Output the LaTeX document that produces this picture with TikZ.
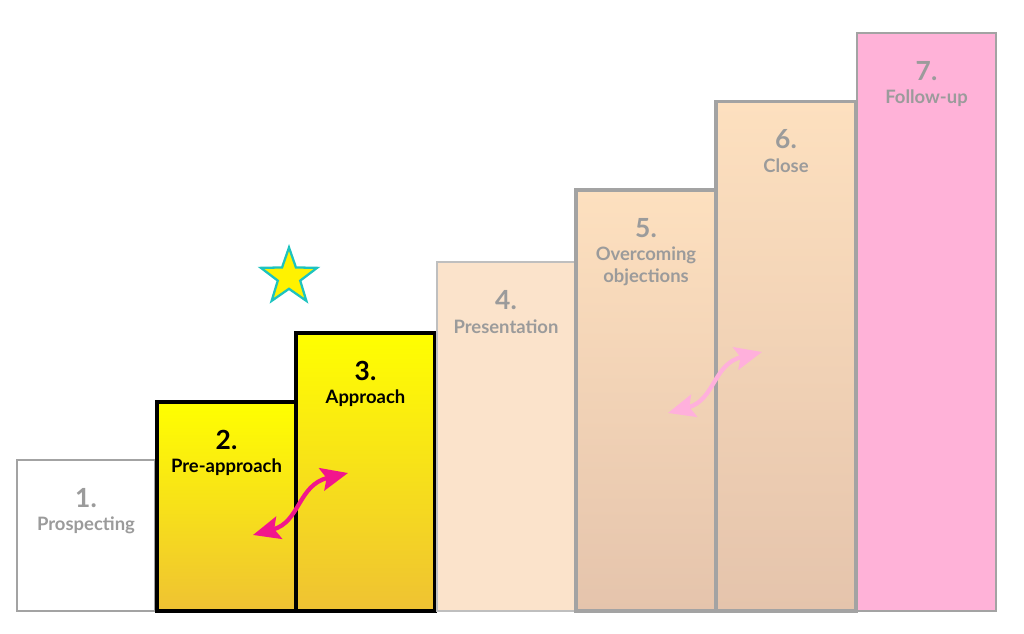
\documentclass[tikz,border=0pt]{standalone}
\usepackage{fontspec}
\setmainfont{Lato}
\usetikzlibrary{arrows.meta,positioning,shapes.geometric}
\definecolor{stepgray}{HTML}{9B9B9B}
\definecolor{edgegray}{HTML}{A3A3A3}
\definecolor{peachtop}{HTML}{FDE0BF}
\definecolor{peachbot}{HTML}{E5C4AC}
\definecolor{peachflat}{HTML}{FBE3CB}
\definecolor{yellowbot}{HTML}{EFC233}
\definecolor{followpink}{HTML}{FFB2D8}
\definecolor{hotpink}{HTML}{F2168C}
\definecolor{softpink}{HTML}{FFB0DC}
\definecolor{startrim}{HTML}{1EC3BF}

\begin{document}
\begin{tikzpicture}[x=0.02cm, y=-0.02cm,
  bar/.style={rectangle, anchor=south west, inner sep=0pt, outer sep=0pt},
  hotbar/.style={bar, draw=black, line width=1.8pt, top color=yellow, bottom color=yellowbot},
  warmbar/.style={bar, draw=edgegray, line width=1.8pt, top color=peachtop, bottom color=peachbot},
  num/.style={font=\bfseries\fontsize{15}{17}\selectfont, inner sep=0pt, text=stepgray},
  lbl/.style={font=\bfseries\fontsize{10.5}{12.5}\selectfont, align=center, inner sep=0pt, text=stepgray},
  swap/.style={{Stealth[length=5.4mm,width=4.6mm,inset=1mm]}-{Stealth[length=5.4mm,width=4.6mm,inset=1mm]}, line width=2.4pt}]
\useasboundingbox (0,0) rectangle (1024,634);
% steps, left to right
\node[bar, draw=edgegray, line width=0.9pt, fill=white, minimum width=2.76cm, minimum height=3.02cm] (b1) at (17,611) {};
\node[hotbar, minimum width=2.78cm, minimum height=4.18cm] (b2) at (157,611) {};
\node[hotbar, minimum width=2.78cm, minimum height=5.56cm] (b3) at (296,611) {};
\node[bar, draw=edgegray!70, line width=0.7pt, fill=peachflat, minimum width=2.76cm, minimum height=6.98cm] (b4) at (437,611) {};
\node[warmbar, minimum width=2.80cm, minimum height=8.42cm] (b5) at (576,611) {};
\node[warmbar, minimum width=2.80cm, minimum height=10.2cm] (b6) at (716,611) {};
\node[bar, draw=edgegray, line width=0.9pt, fill=followpink, minimum width=2.78cm, minimum height=11.56cm] (b7) at (857,611) {};
% numbers and names
\node[num, below=0.76cm of b1.north, anchor=center] (n1) {1.};
\node[lbl, below=1.3cm of b1.north, anchor=center] (t1) {Prospecting};
\node[num, text=black, below=0.76cm of b2.north, anchor=center] (n2) {2.};
\node[lbl, text=black, below=1.3cm of b2.north, anchor=center] (t2) {Pre-approach};
\node[num, text=black, below=0.76cm of b3.north, anchor=center] (n3) {3.};
\node[lbl, text=black, below=1.3cm of b3.north, anchor=center] (t3) {Approach};
\node[num, below=0.76cm of b4.north, anchor=center] (n4) {4.};
\node[lbl, below=1.3cm of b4.north, anchor=center] (t4) {Presentation};
\node[num, below=0.76cm of b5.north, anchor=center] (n5) {5.};
\node[lbl, below=1.52cm of b5.north, anchor=center] (t5) {Overcoming\\objections};
\node[num, below=0.76cm of b6.north, anchor=center] (n6) {6.};
\node[lbl, below=1.3cm of b6.north, anchor=center] (t6) {Close};
\node[num, below=0.76cm of b7.north, anchor=center] (n7) {7.};
\node[lbl, below=1.3cm of b7.north, anchor=center] (t7) {Follow-up};
% star
\node[star, star points=5, star point ratio=2.5, minimum size=1.18cm, inner sep=0pt, fill=yellow, draw=startrim, line width=1.3pt] (star) at (289,277) {};
% swaps
\coordinate (s2) at (253,535);
\coordinate (s3) at (348,473);
\coordinate (s5) at (668,413);
\coordinate (s6) at (762,352);
\draw[swap, hotpink] (s2) .. controls (300,522) and (298,485) .. (s3);
\draw[swap, softpink] (s5) .. controls (715,400) and (713,364) .. (s6);
\end{tikzpicture}
\end{document}
